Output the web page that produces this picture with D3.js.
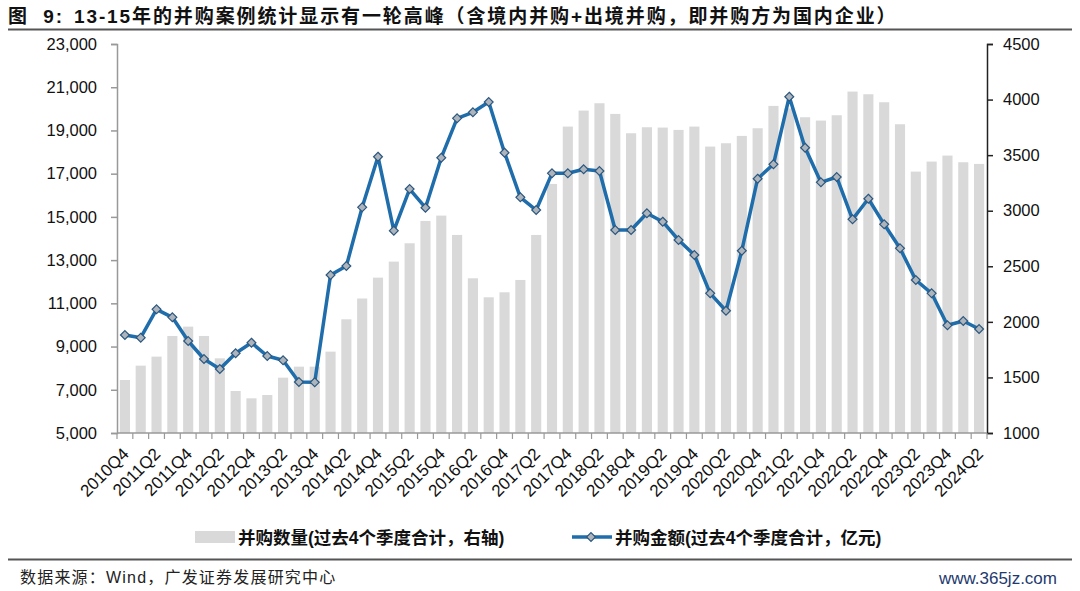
<!DOCTYPE html>
<html><head><meta charset="utf-8">
<script src="https://cdn.jsdelivr.net/npm/d3@7"></script>
<style>
body{margin:0;background:#fff;}
svg{display:block;}
text{font-family:"Liberation Sans",Arial,"Noto Sans CJK SC",sans-serif;}
</style></head>
<body>
<svg id="chart" width="1080" height="591"></svg>
<script>
const categories = [];
(function(){ for(let y=2010;y<=2024;y++){for(let q=1;q<=4;q++){ if((y===2010&&q<4)||(y===2024&&q>2)) continue; categories.push(y+"Q"+q);} } })();

// 并购数量 (过去4个季度合计, 右轴)
const dealCount = [1477,1606,1687,1873,1957,1873,1672,1378,1312,1342,1498,1597,1597,1732,2023,
  2210,2398,2542,2707,2908,2956,2782,2392,2221,2266,2377,2782,3241,3757,3901,3967,3871,3697,3751,3748,3727,
  3757,3577,3607,3673,3742,3943,3920,3841,3811,3859,4072,4048,3976,3778,3352,3442,3496,3436,3421];
// 并购金额 (过去4个季度合计, 亿元, 左轴)
const dealAmount = [9535,9410,10723,10353,9257,8424,7961,8688,9178,8563,8364,7360,7345,12311,12727,
  15443,17785,14361,16290,15425,17738,19561,19839,20315,17970,15906,15318,17016,17016,17202,17123,14393,14393,15166,14777,13930,
  13236,11464,10659,13435,16767,17433,20561,18201,16600,16845,14888,15841,14657,13546,12079,11464,9983,10182,9812];
const leftTicks = [5000,7000,9000,11000,13000,15000,17000,19000,21000,23000];
const rightTicks = [1000,1500,2000,2500,3000,3500,4000,4500];
const xLabels = categories.filter((d,i)=>i%2===0);

const titleHead = "图  9:";
const title = "13-15年的并购案例统计显示有一轮高峰（含境内并购+出境并购，即并购方为国内企业）";
const legendBar = "并购数量(过去4个季度合计，右轴)";
const legendLine = "并购金额(过去4个季度合计，亿元)";
const source = "数据来源：Wind，广发证券发展研究中心";
const watermark = "www.365jz.com";

const svg = d3.select("#chart");
const L = 117, R = 987, T = 44, B = 433;
const cjk = "'Noto Sans CJK SC','Liberation Sans',sans-serif";

const xb = d3.scaleBand().domain(categories).range([L,R]);
const yL = d3.scaleLinear().domain([5000,23000]).range([B,T]);
const yR = d3.scaleLinear().domain([1000,4500]).range([B,T]);

// title
const tt = svg.append("text").attr("x",8).attr("y",23).attr("font-size",19).attr("font-weight","bold").attr("fill","#111")
  .attr("font-family",cjk).attr("letter-spacing",1.9).attr("xml:space","preserve");
tt.append("tspan").text(titleHead);
tt.append("tspan").attr("dx",10).text(title);
svg.append("line").attr("x1",8).attr("x2",1072).attr("y1",29.5).attr("y2",29.5).attr("stroke","#555").attr("stroke-width",2);
svg.append("line").attr("x1",8).attr("x2",1072).attr("y1",559.5).attr("y2",559.5).attr("stroke","#555").attr("stroke-width",2);

// bars
svg.append("g").selectAll("rect").data(dealCount).join("rect")
  .attr("x",(d,i)=>xb(categories[i]) + xb.bandwidth()*0.18)
  .attr("width",xb.bandwidth()*0.64)
  .attr("y",d=>yR(d)).attr("height",d=>B-yR(d))
  .attr("fill","#d9d9d9");

// axes
const gl = svg.append("g").attr("transform",`translate(${L},0)`)
  .call(d3.axisLeft(yL).tickValues(leftTicks).tickSize(6).tickPadding(14).tickFormat(d3.format(",")));
gl.select(".domain").attr("stroke","#999").attr("stroke-width",1.5);
gl.selectAll(".tick line").attr("stroke","#999").attr("stroke-width",1.5);
gl.selectAll("text").attr("font-size",16.5).attr("fill","#111");

const gr = svg.append("g").attr("transform",`translate(${R},0)`)
  .call(d3.axisRight(yR).tickValues(rightTicks).tickSize(6).tickPadding(10).tickFormat(d3.format("d")));
gr.select(".domain").attr("stroke","#222").attr("stroke-width",1.5);
gr.selectAll(".tick line").attr("stroke","#222").attr("stroke-width",1.5);
gr.selectAll("text").attr("font-size",16.5).attr("fill","#111");

const gx = svg.append("g").attr("transform",`translate(0,${B})`);
gx.append("line").attr("x1",L).attr("x2",R).attr("stroke","#999").attr("stroke-width",1.5);
gx.selectAll("line.t").data(categories.concat(["end"])).join("line").attr("class","t")
  .attr("x1",(d,i)=>L+i*xb.step()).attr("x2",(d,i)=>L+i*xb.step())
  .attr("y1",0).attr("y2",6).attr("stroke","#999").attr("stroke-width",1.2);
gx.selectAll("text").data(xLabels).join("text")
  .attr("transform",d=>`translate(${xb(d)+xb.bandwidth()/2+5},${22}) rotate(-45)`)
  .attr("text-anchor","end").attr("font-size",17).attr("fill","#111")
  .text(d=>d);

// line
const lineGen = d3.line().x((d,i)=>xb(categories[i])+xb.bandwidth()/2).y(d=>yL(d));
svg.append("path").datum(dealAmount).attr("d",lineGen).attr("fill","none")
  .attr("stroke","#1f6dab").attr("stroke-width",3.5).attr("stroke-linejoin","round");
const diamond = d3.symbol().type(d3.symbolDiamond2).size(50);
svg.append("g").selectAll("path").data(dealAmount).join("path")
  .attr("transform",(d,i)=>`translate(${xb(categories[i])+xb.bandwidth()/2},${yL(d)})`)
  .attr("d",diamond).attr("fill","#aeb4bb").attr("stroke","#2b577f").attr("stroke-width",1.2);

// legend
const lg = svg.append("g").attr("font-family",cjk);
lg.append("rect").attr("x",195).attr("y",531).attr("width",40).attr("height",12).attr("fill","#d9d9d9");
lg.append("text").attr("x",238).attr("y",543.5).attr("font-size",17.5).attr("font-weight","bold").attr("fill","#111").text(legendBar);
lg.append("line").attr("x1",572).attr("x2",612).attr("y1",537).attr("y2",537).attr("stroke","#1f6dab").attr("stroke-width",3.5);
lg.append("path").attr("transform","translate(591,537)").attr("d",diamond).attr("fill","#aeb4bb").attr("stroke","#2b577f").attr("stroke-width",1.2);
lg.append("text").attr("x",615).attr("y",543.5).attr("font-size",17.5).attr("font-weight","bold").attr("fill","#111").text(legendLine);

// source
svg.append("text").attr("x",20).attr("y",583).attr("font-size",16).attr("letter-spacing",1.2).attr("fill","#222")
  .attr("font-family",cjk).text(source);
svg.append("text").attr("x",1057).attr("y",584).attr("text-anchor","end").attr("font-size",17).attr("fill","#1e3a6e")
  .attr("font-family","'DejaVu Serif','Liberation Serif',serif").text(watermark);
</script>
</body></html>
